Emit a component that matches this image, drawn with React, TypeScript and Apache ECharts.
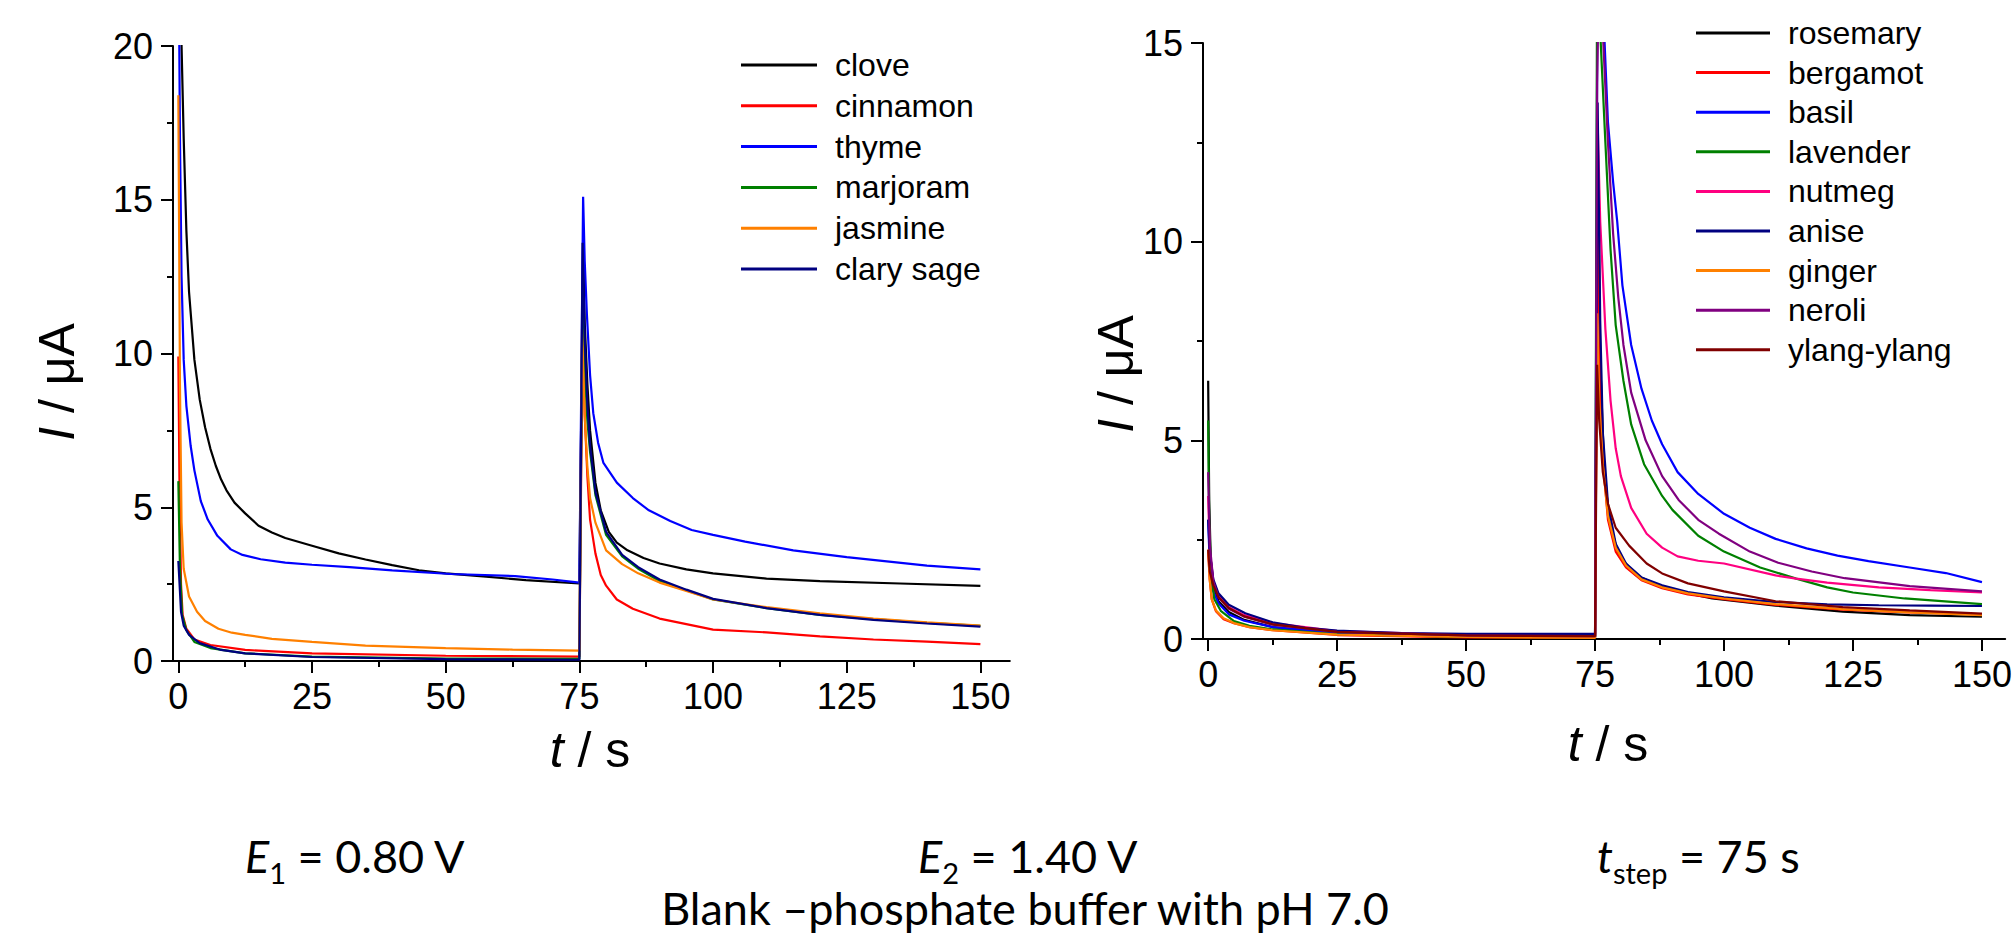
import React, { useEffect, useRef } from "react";
import * as echarts from "echarts";

const FONT = '"Liberation Sans", Arial, sans-serif';
const CAP = 'Lato, "Open Sans", sans-serif';

const xTicks = [0, 25, 50, 75, 100, 125, 150];
const xMinorTicks = [12.5, 37.5, 62.5, 87.5, 112.5, 137.5];

const leftNames = ["clove", "cinnamon", "thyme", "marjoram", "jasmine", "clary sage"];
const leftColors = ["#000000", "#ff0000", "#0000ff", "#008000", "#ff8000", "#000080"];
const rightNames = ["rosemary", "bergamot", "basil", "lavender", "nutmeg", "anise", "ginger", "neroli", "ylang-ylang"];
const rightColors = ["#000000", "#ff0000", "#0000ff", "#008000", "#ff0080", "#000080", "#ff8000", "#800080", "#800000"];

// left panel (t / s, I / uA)
const clove = [[0.45, 22], [0.6, 20], [1, 17], [1.5, 14], [2, 12], [3, 9.8], [4, 8.5], [5, 7.6], [6, 6.9], [7, 6.35], [8, 5.9], [9, 5.55], [10.5, 5.15], [12.5, 4.8], [15, 4.4], [17.5, 4.18], [20, 4.0], [25, 3.75], [30, 3.5], [35, 3.3], [40, 3.12], [45, 2.95], [50, 2.85], [57, 2.75], [65, 2.63], [75, 2.52], [75.7, 13.4], [76, 11], [76.5, 9], [77, 7.5], [78, 5.8], [79, 4.9], [80.5, 4.2], [82, 3.85], [84, 3.6], [87, 3.35], [90, 3.17], [95, 2.98], [100, 2.85], [110, 2.68], [120, 2.6], [135, 2.52], [150, 2.44]];
const cinnamon = [[0, 9.9], [0.2, 6], [0.5, 2.5], [0.8, 1.5], [1.5, 1.05], [3, 0.7], [6, 0.52], [12.5, 0.36], [25, 0.25], [50, 0.17], [75, 0.14], [75.6, 10.8], [76, 8], [76.5, 6], [77, 4.6], [78, 3.5], [79, 2.8], [80, 2.45], [82, 2.0], [85, 1.7], [90, 1.38], [95, 1.2], [100, 1.02], [110, 0.93], [120, 0.8], [130, 0.7], [140, 0.63], [150, 0.55]];
const thyme = [[0.1, 22], [0.3, 17], [0.6, 12.5], [1, 9.8], [1.5, 8.3], [2.3, 7.0], [3, 6.2], [4.2, 5.2], [5.5, 4.6], [7.3, 4.07], [9.8, 3.63], [12, 3.45], [15.4, 3.31], [20, 3.2], [25, 3.13], [32, 3.05], [40, 2.95], [51, 2.83], [63, 2.76], [70, 2.65], [75, 2.55], [75.7, 15.1], [76, 13], [76.4, 11.3], [77, 9.3], [77.6, 8.06], [78.5, 7.1], [79.5, 6.44], [82, 5.8], [85, 5.3], [88, 4.9], [92, 4.55], [96, 4.26], [100, 4.1], [106, 3.88], [115, 3.6], [125, 3.38], [140, 3.1], [150, 2.98]];
const marjoram = [[0, 5.85], [0.3, 3], [0.7, 1.5], [1.5, 1.0], [3, 0.62], [6, 0.42], [12.5, 0.25], [25, 0.14], [50, 0.08], [75, 0.07], [75.6, 12], [76, 9.5], [76.5, 7.8], [77, 6.8], [78, 5.4], [80, 4.1], [83, 3.4], [86, 3.0], [90, 2.6], [95, 2.3], [100, 2.0], [110, 1.72], [120, 1.5], [130, 1.36], [140, 1.24], [150, 1.14]];
const jasmine = [[0, 18.4], [0.3, 9], [0.6, 4.5], [1, 3.0], [2, 2.1], [3.5, 1.6], [5, 1.3], [7.5, 1.05], [10, 0.92], [12.5, 0.85], [17.5, 0.72], [25, 0.62], [35, 0.5], [50, 0.42], [62.5, 0.37], [75, 0.34], [75.5, 10.8], [76, 8], [76.5, 6.3], [77, 5.3], [78, 4.5], [80, 3.6], [83, 3.15], [86, 2.85], [90, 2.55], [95, 2.28], [100, 2.0], [110, 1.75], [120, 1.55], [130, 1.38], [140, 1.26], [150, 1.15]];
const clarySage = [[0, 3.25], [0.5, 1.6], [1, 1.15], [2, 0.85], [4, 0.58], [8, 0.36], [12.5, 0.25], [25, 0.13], [50, 0.06], [75, 0.04], [75.6, 13.6], [76, 10.5], [76.5, 8.3], [77, 7.0], [78, 5.5], [80, 4.2], [83, 3.45], [86, 3.05], [90, 2.65], [95, 2.32], [100, 2.02], [110, 1.72], [120, 1.5], [130, 1.34], [140, 1.22], [150, 1.12]];

// right panel
const rosemary = [[0, 6.5], [0.2, 3.5], [0.5, 2.0], [1, 1.35], [2, 0.95], [4, 0.68], [7, 0.48], [12.5, 0.3], [25, 0.14], [50, 0.07], [75, 0.05], [75.5, 12.9], [76, 7], [76.7, 4.47], [77.7, 3.0], [79.6, 2.1], [82.9, 1.61], [88, 1.31], [93, 1.15], [97.7, 1.02], [110, 0.84], [123, 0.69], [136, 0.6], [150, 0.56]];
const bergamot = [[0, 2.2], [0.3, 1.5], [0.7, 1.0], [1.5, 0.7], [3, 0.5], [5, 0.4], [8, 0.3], [12.5, 0.22], [25, 0.1], [50, 0.04], [75, 0.03], [75.5, 11], [76, 6.5], [76.5, 4.5], [77.5, 3.0], [79, 2.2], [81, 1.8], [84, 1.48], [88, 1.28], [93, 1.12], [100, 1.0], [110, 0.86], [123, 0.74], [136, 0.67], [150, 0.62]];
const basil = [[0, 3.0], [0.3, 1.9], [1, 1.2], [2, 0.9], [4, 0.62], [7, 0.46], [12.5, 0.3], [25, 0.15], [50, 0.07], [75, 0.06], [75.5, 18], [76.4, 18], [76.85, 15], [77.5, 13], [78.5, 11.5], [79.3, 10.5], [80.3, 8.9], [82, 7.4], [84, 6.3], [86, 5.5], [88, 4.9], [91, 4.2], [95, 3.65], [100, 3.15], [105, 2.8], [110, 2.52], [116, 2.28], [122, 2.1], [128, 1.96], [136, 1.8], [143, 1.66], [150, 1.43]];
const lavender = [[0, 5.5], [0.2, 3.0], [0.6, 1.6], [1.2, 1.0], [2.5, 0.7], [5, 0.45], [8, 0.33], [12.5, 0.24], [25, 0.12], [50, 0.05], [75, 0.04], [75.4, 17], [76.1, 15], [77, 12.5], [78, 9.8], [79, 7.9], [80.5, 6.5], [82, 5.4], [84.5, 4.4], [88, 3.6], [90, 3.25], [95, 2.6], [100, 2.2], [107, 1.8], [114, 1.52], [120, 1.3], [125, 1.17], [135, 1.02], [150, 0.88]];
const nutmeg = [[0, 3.6], [0.3, 2.2], [1, 1.45], [2, 1.1], [4, 0.8], [7, 0.6], [12.5, 0.4], [25, 0.2], [50, 0.1], [75, 0.08], [75.5, 13], [76, 10.5], [77, 7.8], [78, 6.0], [79, 4.8], [80, 4.1], [82, 3.3], [85, 2.65], [88, 2.3], [91, 2.08], [95, 1.97], [100, 1.9], [110, 1.6], [114, 1.52], [120, 1.42], [130, 1.3], [140, 1.23], [150, 1.17]];
const anise = [[0, 3.0], [0.3, 2.2], [1, 1.5], [2, 1.15], [4, 0.86], [7.2, 0.65], [12.5, 0.42], [18.8, 0.28], [25, 0.21], [37.5, 0.15], [50, 0.13], [75, 0.13], [75.5, 13.5], [76, 8], [76.5, 5.2], [77.5, 3.4], [79, 2.4], [81, 1.9], [84, 1.55], [88, 1.35], [93, 1.18], [100, 1.05], [110, 0.93], [120, 0.87], [130, 0.85], [140, 0.84], [150, 0.83]];
const ginger = [[0, 2.25], [0.3, 1.5], [0.7, 1.0], [1.5, 0.72], [3, 0.52], [5, 0.4], [8, 0.3], [12.5, 0.22], [25, 0.11], [50, 0.05], [75, 0.03], [75.4, 8.2], [75.8, 6], [76.5, 4.4], [77.5, 3.1], [79, 2.3], [81, 1.85], [84, 1.5], [88, 1.3], [93, 1.15], [100, 1.02], [110, 0.88], [123, 0.75], [136, 0.67], [150, 0.6]];
const neroli = [[0, 4.2], [0.3, 2.4], [1, 1.45], [2, 1.05], [4, 0.76], [7, 0.56], [12.5, 0.36], [25, 0.18], [50, 0.09], [75, 0.07], [75.4, 14], [75.8, 17], [76.6, 15], [77.5, 12.5], [78.5, 10.2], [79.5, 8.6], [80.5, 7.4], [82, 6.2], [84.8, 5.0], [88, 4.1], [91.2, 3.5], [95, 3.0], [99, 2.65], [105, 2.2], [110.5, 1.92], [117, 1.7], [123.4, 1.53], [136, 1.33], [150, 1.2]];
const ylangYlang = [[0, 2.25], [0.3, 1.7], [1, 1.35], [2, 1.05], [4, 0.78], [7, 0.57], [12.5, 0.37], [25, 0.18], [50, 0.09], [75, 0.07], [75.4, 6.9], [75.8, 5.5], [76.5, 4.2], [77.5, 3.4], [79, 2.8], [81.6, 2.35], [85, 1.9], [88, 1.65], [93, 1.4], [100, 1.2], [110, 0.95], [123, 0.8], [136, 0.72], [150, 0.64]];

const leftData = [clove, cinnamon, thyme, marjoram, jasmine, clarySage];
const rightData = [rosemary, bergamot, basil, lavender, nutmeg, anise, ginger, neroli, ylangYlang];

const black = { color: "#000", width: 2 };
const TICK_FONT = 36;

function xMain(grid: number, max: number) {
  return {
    type: "value", gridIndex: grid, min: -1, max, position: "bottom",
    axisLine: { show: true, onZero: false, lineStyle: black },
    axisTick: { show: true, customValues: xTicks, length: 12, lineStyle: black },
    axisLabel: { customValues: xTicks, fontSize: TICK_FONT, fontFamily: FONT, color: "#000", margin: 17 },
    splitLine: { show: false },
  };
}
function xMinor(grid: number, max: number) {
  return {
    type: "value", gridIndex: grid, min: -1, max, position: "bottom",
    axisLine: { show: false, onZero: false },
    axisTick: { show: true, customValues: xMinorTicks, length: 6, lineStyle: black },
    axisLabel: { show: false },
    splitLine: { show: false },
  };
}
function yAx(grid: number, max: number) {
  return {
    type: "value", gridIndex: grid, min: 0, max, interval: 5,
    axisLine: { show: true, onZero: false, lineStyle: black },
    axisTick: { show: true, length: 12, lineStyle: black },
    minorTick: { show: true, splitNumber: 2, length: 6, lineStyle: black },
    axisLabel: { fontSize: TICK_FONT, fontFamily: FONT, color: "#000", margin: 20 },
    splitLine: { show: false },
    minorSplitLine: { show: false },
  };
}

function legend(names: string[], left: number, top: number, w: number, gap: number) {
  return {
    data: names, orient: "vertical", left, top, padding: 0, itemGap: gap,
    itemWidth: w, itemHeight: 3, icon: "rect", selectedMode: false,
    textStyle: { fontSize: 32, fontFamily: FONT, color: "#000", lineHeight: 32, padding: [0, 0, 0, 13] },
  };
}

function capText(x: number, y: number, text: string, align = "left") {
  return {
    type: "text", x, y,
    style: {
      text, align, verticalAlign: "middle", fill: "#000", fontSize: 45, fontFamily: CAP,
      rich: {
        i: { fontSize: 45, fontFamily: CAP, fontStyle: "italic", fill: "#000", lineHeight: 62 },
        s: { fontSize: 29, fontFamily: CAP, fill: "#000", verticalAlign: "bottom" },
        n: { fontSize: 45, fontFamily: CAP, fill: "#000", lineHeight: 62 },
      },
    },
  };
}
function axisTitle(x: number, y: number, text: string, rot: number) {
  return {
    type: "text", x, y, rotation: rot,
    style: {
      text, align: "center", verticalAlign: "middle", fill: "#000", fontSize: 50, fontFamily: FONT,
      rich: { i: { fontSize: 50, fontFamily: FONT, fontStyle: "italic", fill: "#000" } },
    },
  };
}

export default function App() {
  const ref = useRef<HTMLDivElement>(null);
  useEffect(() => {
    const chart = echarts.init(ref.current!, null, { renderer: "svg" });
    const series: any[] = [];
    leftNames.forEach((n, k) => series.push({
      type: "line", name: n, data: leftData[k], xAxisIndex: 0, yAxisIndex: 0,
      symbol: "none", showSymbol: false, color: leftColors[k], lineStyle: { color: leftColors[k], width: 2.2 }, clip: true,
    }));
    rightNames.forEach((n, k) => series.push({
      type: "line", name: n, data: rightData[k], xAxisIndex: 2, yAxisIndex: 1,
      symbol: "none", showSymbol: false, color: rightColors[k], lineStyle: { color: rightColors[k], width: 2.2 }, clip: true,
    }));
    chart.setOption({
      animation: false,
      backgroundColor: "#fff",
      grid: [
        { left: 173, top: 46, width: 836.8, height: 615 },
        { left: 1203, top: 43, width: 805, height: 596 },
      ],
      xAxis: [xMain(0, 155.5), xMinor(0, 155.5), xMain(1, 154.5), xMinor(1, 154.5)],
      yAxis: [yAx(0, 20), yAx(1, 15)],
      legend: [legend(leftNames, 741, 49, 76, 8.8), legend(rightNames, 1696, 17, 74, 7.6)],
      series,
      graphic: [
        axisTitle(590, 750, "{i|t} / s", 0),
        axisTitle(1608, 744, "{i|t} / s", 0),
        axisTitle(57, 382, "{i|I} / μA", Math.PI / 2),
        axisTitle(1116, 374, "{i|I} / μA", Math.PI / 2),
        capText(245, 856, "{i|E}{s|1}{n| = 0.80 V}"),
        capText(918, 856, "{i|E}{s|2}{n| = 1.40 V}"),
        capText(1597, 856, "{i|t}{s|step}{n| = 75 s}"),
        capText(1025, 908, "Blank –phosphate buffer with pH 7.0", "center"),
      ],
    });
    return () => chart.dispose();
  }, []);
  return <div ref={ref} style={{ position: "fixed", left: 0, top: 0, width: 2015, height: 935, background: "#fff" }} />;
}
